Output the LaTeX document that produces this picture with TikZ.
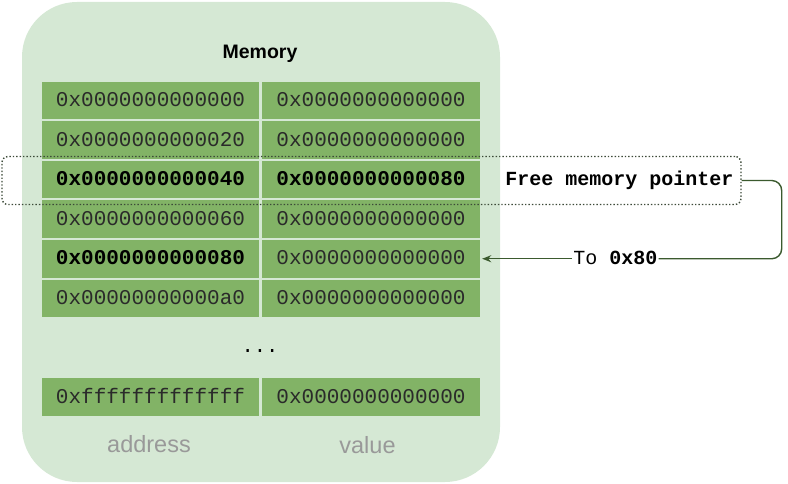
\documentclass[tikz,border=0pt]{standalone}
\usepackage{fontspec}
\setmainfont{Liberation Sans}
\setmonofont{Liberation Mono}
\usetikzlibrary{positioning,arrows.meta}

\definecolor{membg}{HTML}{D5E8D4}
\definecolor{cellgreen}{HTML}{82B366}
\definecolor{celltext}{HTML}{2A2A2A}
\definecolor{lblgray}{HTML}{999999}
\definecolor{linkgreen}{HTML}{3B5A2E}
\definecolor{dotgray}{HTML}{3C4A38}

\tikzset{
  cell/.style={rectangle, fill=cellgreen, inner sep=0pt, minimum height=37.5pt,
    text=celltext, font=\fontsize{21}{24}\selectfont\ttfamily,
    text height=12.5pt, text depth=0pt},
  addrcell/.style={cell, minimum width=217pt},
  valcell/.style={cell, minimum width=218pt},
  axislbl/.style={text=lblgray, font=\fontsize{23.5}{27}\selectfont, anchor=base, inner sep=0pt},
}

\begin{document}
\begin{tikzpicture}[x=1pt,y=-1pt]
\useasboundingbox (0,0) rectangle (788,484);

% Le bloc memoire
\node[fill=membg, rounded corners=55pt, minimum width=478pt, minimum height=480pt,
  inner sep=0pt] (mem) at (261,242) {};
\node[anchor=base, font=\fontsize{19.5}{22}\selectfont\bfseries, inner sep=0pt]
  (memtitle) at (260,59) {Memory};

% Les cases
\node[addrcell] (a1) at (150.5,100.75) {0x0000000000000};
\node[valcell]  (v1) at (371,100.75)   {0x0000000000000};
\node[addrcell] (a2) at (150.5,140.25) {0x0000000000020};
\node[valcell]  (v2) at (371,140.25)   {0x0000000000000};
\node[addrcell, text=black] (a3) at (150.5,179.75) {\bfseries 0x0000000000040};
\node[valcell, text=black]  (v3) at (371,179.75)   {\bfseries 0x0000000000080};
\node[addrcell] (a4) at (150.5,219.25) {0x0000000000060};
\node[valcell]  (v4) at (371,219.25)   {0x0000000000000};
\node[addrcell, text=black] (a5) at (150.5,258.75) {\bfseries 0x0000000000080};
\node[valcell]  (v5) at (371,258.75)   {0x0000000000000};
\node[addrcell] (a6) at (150.5,298.25) {0x00000000000a0};
\node[valcell]  (v6) at (371,298.25)   {0x0000000000000};

\node[font=\fontsize{20.5}{24}\selectfont\ttfamily, anchor=base, inner sep=0pt]
  (dots) at (260,352) {...};

\node[addrcell] (alast) at (150.5,397) {0xfffffffffffff};
\node[valcell]  (vlast) at (371,397)   {0x0000000000000};

% Legende des colonnes
\node[axislbl] (addrlbl) at (149,452) {address};
\node[axislbl] (vallbl) at (367.5,453.5) {value};

% Le pointeur de memoire libre
\node[draw=dotgray, line width=1.4pt, dotted, rounded corners=6pt,
  minimum width=739pt, minimum height=48pt, inner sep=0pt] (fmpbox) at (371.5,180.5) {};
\node[anchor=base, font=\fontsize{20}{24}\selectfont\ttfamily\bfseries, inner sep=0pt]
  (fmplbl) at (619.5,186) {Free memory pointer};

\node[font=\fontsize{20}{24}\selectfont\ttfamily, inner sep=1pt,
  text height=12pt, text depth=0pt, right=92pt of v5] (tolbl) {To \textbf{0x80}};

\draw[linkgreen, line width=1.4pt, rounded corners=10pt]
  (fmpbox.east) -- ++(40,0) |- (tolbl.east);
\draw[linkgreen, line width=1.4pt, -{Stealth[length=9pt,width=7pt]}, shorten >=2pt]
  (tolbl.west) -- (v5.east);

\end{tikzpicture}
\end{document}
